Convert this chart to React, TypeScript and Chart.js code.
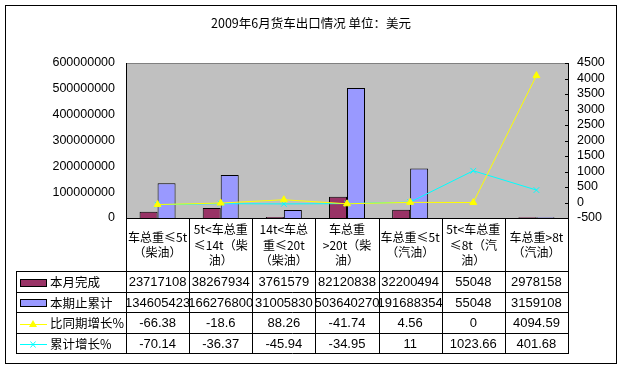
import { useEffect, useRef } from "react";
import { Chart, registerables } from "chart.js";

Chart.register(...registerables);

const chartTitle = "2009年6月货车出口情况 单位：美元";
const categoryLines: string[][] = [
  ["车总重≤5t", "（柴油）"],
  ["5t<车总重", "≤14t（柴", "油）"],
  ["14t<车总", "重≤20t", "（柴油）"],
  ["车总重", ">20t（柴", "油）"],
  ["车总重≤5t", "（汽油）"],
  ["5t<车总重", "≤8t（汽", "油）"],
  ["车总重>8t", "（汽油）"],
];
const seriesNames = ["本月完成", "本期止累计", "比同期增长%", "累计增长%"];
const monthValues = [23717108, 38267934, 3761579, 82120838, 32200494, 55048, 2978158];
const cumValues = [134605423, 166276800, 31005830, 503640270, 191688354, 55048, 3159108];
const yoyGrowth = [-66.38, -18.6, 88.26, -41.74, 4.56, 0, 4094.59];
const cumGrowth = [-70.14, -36.37, -45.94, -34.95, 11, 1023.66, 401.68];
const leftAxis = { min: 0, max: 600000000, step: 100000000 };
const rightAxis = { min: -500, max: 4500, step: 500 };

const colors = ["#993366", "#9999FF", "#FFFF00", "#00FFFF"];
const FONT = "'Liberation Sans', 'Noto Sans CJK SC', sans-serif";
const CJK = "'Noto Sans CJK SC', 'Liberation Sans', sans-serif";

const tablePlugin = {
  id: "excelTable",
  beforeDraw(chart: any) {
    const { ctx, chartArea } = chart;
    ctx.save();
    ctx.fillStyle = "#FFFFFF";
    ctx.fillRect(0, 0, chart.width, chart.height);
    ctx.strokeStyle = "#000000";
    ctx.lineWidth = 1;
    ctx.strokeRect(5.5, 5.5, 611, 358);
    ctx.fillStyle = "#C0C0C0";
    ctx.fillRect(chartArea.left, chartArea.top, chartArea.right - chartArea.left, chartArea.bottom - chartArea.top);
    ctx.fillStyle = "#000";
    ctx.font = `12.5px ${CJK}`;
    ctx.textAlign = "center";
    ctx.textBaseline = "middle";
    ctx.fillText(chartTitle, 311, 23);
    ctx.restore();
  },
  afterDraw(chart: any) {
    const { ctx, chartArea } = chart;
    const L = Math.round(chartArea.left);
    const R = Math.round(chartArea.right);
    const T = Math.round(chartArea.top);
    const B = Math.round(chartArea.bottom);
    const n = categoryLines.length;
    const w = (R - L) / n;
    const rows = [271, 292, 312, 333, 353];
    const xs = chart.scales.x;
    const y1 = chart.scales.y1;
    ctx.save();
    ctx.lineWidth = 1;
    // plot border
    ctx.strokeStyle = "#808080";
    ctx.beginPath();
    ctx.moveTo(L, T + 0.5);
    ctx.lineTo(R, T + 0.5);
    ctx.stroke();
    ctx.strokeStyle = "#000";
    ctx.beginPath();
    ctx.moveTo(L + 0.5, T);
    ctx.lineTo(L + 0.5, rows[4] + 1);
    ctx.moveTo(R + 0.5, T);
    ctx.lineTo(R + 0.5, rows[4] + 1);
    ctx.moveTo(L, B + 0.5);
    ctx.lineTo(R + 1, B + 0.5);
    // right axis ticks
    const vals: number[] = [];
    for (let v = rightAxis.min; v <= rightAxis.max; v += rightAxis.step) vals.push(v);
    vals.forEach((v) => {
      const y = Math.round(y1.getPixelForValue(v)) + 0.5;
      ctx.moveTo(R - 3, y);
      ctx.lineTo(R + 1, y);
    });
    // column dividers
    for (let k = 1; k < n; k++) {
      const x = Math.round(L + k * w) + 0.5;
      ctx.moveTo(x, B);
      ctx.lineTo(x, rows[4] + 1);
    }
    // table rows
    ctx.moveTo(16.5, rows[0]);
    ctx.lineTo(16.5, rows[4] + 1);
    rows.forEach((r) => {
      ctx.moveTo(16, r + 0.5);
      ctx.lineTo(R + 1, r + 0.5);
    });
    ctx.stroke();

    // header labels
    ctx.fillStyle = "#000";
    ctx.font = `12px ${CJK}`;
    ctx.textAlign = "center";
    ctx.textBaseline = "middle";
    const headerMid = (B + rows[0]) / 2 + 0.5;
    categoryLines.forEach((lines, i) => {
      const cx = xs.getPixelForValue(i);
      const lh = 15.5;
      const start = headerMid - ((lines.length - 1) * lh) / 2;
      lines.forEach((t, j) => ctx.fillText(t, cx, start + j * lh));
    });

    // data rows
    const rowData = [monthValues, cumValues, yoyGrowth, cumGrowth];
    rowData.forEach((arr, ri) => {
      const cy = (rows[ri] + rows[ri + 1]) / 2 + 1;
      ctx.font = `13px ${FONT}`;
      ctx.textAlign = "center";
      arr.forEach((v, i) => {
        ctx.fillText(String(v), xs.getPixelForValue(i), cy);
      });
      // legend key
      ctx.font = `12.5px ${CJK}`;
      ctx.textAlign = "left";
      ctx.fillText(seriesNames[ri], 50, cy);
      const ky = Math.round(cy);
      if (ri < 2) {
        ctx.fillStyle = colors[ri];
        ctx.fillRect(20, ky - 4, 26, 7);
        ctx.strokeStyle = "#000";
        ctx.strokeRect(20.5, ky - 3.5, 26, 7);
        ctx.fillStyle = "#000";
      } else {
        ctx.strokeStyle = colors[ri];
        ctx.beginPath();
        ctx.moveTo(20, ky + 0.5);
        ctx.lineTo(47, ky + 0.5);
        ctx.stroke();
        if (ri === 2) {
          ctx.fillStyle = colors[ri];
          ctx.beginPath();
          ctx.moveTo(33, ky - 4);
          ctx.lineTo(37, ky + 3);
          ctx.lineTo(29, ky + 3);
          ctx.closePath();
          ctx.fill();
          ctx.fillStyle = "#000";
        } else {
          ctx.beginPath();
          ctx.moveTo(30.5, ky - 2.5);
          ctx.lineTo(35.5, ky + 3.5);
          ctx.moveTo(35.5, ky - 2.5);
          ctx.lineTo(30.5, ky + 3.5);
          ctx.stroke();
        }
      }
    });
    ctx.restore();
  },
};

export default function App() {
  const ref = useRef<HTMLCanvasElement | null>(null);
  useEffect(() => {
    if (!ref.current) return;
    const labels = categoryLines.map((l) => l.join(""));
    const chart = new Chart(ref.current, {
      type: "bar",
      data: {
        labels,
        datasets: [
          {
            type: "line",
            label: seriesNames[2],
            data: yoyGrowth,
            yAxisID: "y1",
            borderColor: colors[2],
            backgroundColor: colors[2],
            borderWidth: 1,
            pointStyle: "triangle",
            pointRadius: 4,
            pointBorderWidth: 1,
            order: 0,
          },
          {
            type: "line",
            label: seriesNames[3],
            data: cumGrowth,
            yAxisID: "y1",
            borderColor: colors[3],
            backgroundColor: colors[3],
            borderWidth: 1,
            pointStyle: "crossRot",
            pointRadius: 4,
            pointBorderWidth: 1,
            order: 0,
          },
          {
            type: "bar",
            label: seriesNames[0],
            data: monthValues,
            yAxisID: "y",
            backgroundColor: colors[0],
            borderColor: "#000",
            borderWidth: 1,
            categoryPercentage: 0.57,
            barPercentage: 1,
            order: 1,
          },
          {
            type: "bar",
            label: seriesNames[1],
            data: cumValues,
            yAxisID: "y",
            backgroundColor: colors[1],
            borderColor: "#000",
            borderWidth: 1,
            categoryPercentage: 0.57,
            barPercentage: 1,
            order: 1,
          },
        ],
      },
      options: {
        responsive: false,
        animation: false,
        layout: { padding: { top: 63, bottom: 152, left: 0, right: 0 } },
        plugins: { legend: { display: false }, tooltip: { enabled: false }, title: { display: false } },
        scales: {
          x: { display: false, offset: true, grid: { display: false } },
          y: {
            position: "left",
            min: leftAxis.min,
            max: leftAxis.max,
            grid: { display: false, drawTicks: false },
            border: { display: false },
            ticks: {
              stepSize: leftAxis.step,
              autoSkip: false,
              padding: 11,
              color: "#000",
              font: { family: FONT, size: 12.5 },
              callback: (v: any) => String(v),
            },
            afterFit: (s: any) => {
              s.width = 126;
            },
          },
          y1: {
            position: "right",
            min: rightAxis.min,
            max: rightAxis.max,
            grid: { display: false, drawTicks: false },
            border: { display: false },
            ticks: {
              stepSize: rightAxis.step,
              autoSkip: false,
              padding: 9,
              color: "#000",
              font: { family: FONT, size: 12.5 },
              callback: (v: any) => String(v),
            },
            afterFit: (s: any) => {
              s.width = 56;
            },
          },
        },
      },
      plugins: [tablePlugin],
    });
    return () => chart.destroy();
  }, []);
  return (
    <div style={{ position: "absolute", left: 0, top: 0, width: 624, height: 370 }}>
      <canvas ref={ref} width={624} height={370} style={{ display: "block" }} />
    </div>
  );
}
